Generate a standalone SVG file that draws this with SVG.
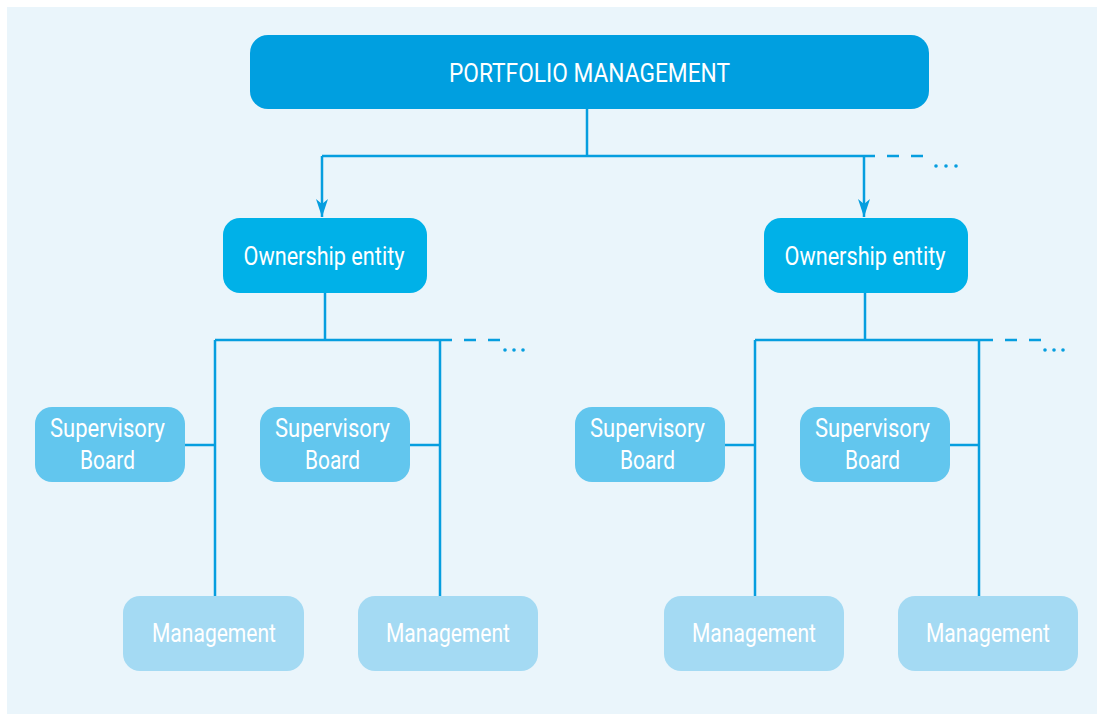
<svg xmlns="http://www.w3.org/2000/svg" width="1097" height="714" viewBox="0 0 1097 714">
<style>
.t{font-family:Roboto,"Liberation Sans",sans-serif;font-size:25px;fill:#ffffff;text-anchor:middle}
.ln{stroke:#069EDF;stroke-width:2.5;fill:none}
.dash{stroke:#069EDF;stroke-width:2.5;fill:none;stroke-dasharray:12 12}
.dot{fill:#069EDF}
.top{fill:#009FE0}
.own{fill:#00B1E8}
.sup{fill:#62C6EE}
.mgt{fill:#A4DAF3}
</style>
<defs>
<marker id="arr" viewBox="0 0 18 12" refX="18" refY="6" markerWidth="18" markerHeight="12" markerUnits="userSpaceOnUse" orient="auto">
<path d="M0,0 L18,6 L0,12 L5,6 Z" fill="#069EDF"/>
</marker>
</defs>
<rect x="7" y="7" width="1090" height="707" fill="#EAF5FB"/>
<g id="connectors">
<path class="ln" d="M587,109 V156 M322,156 H875"/>
<path class="ln" d="M322,156 V217" marker-end="url(#arr)"/>
<path class="ln" d="M864,156 V217" marker-end="url(#arr)"/>
<path class="dash" d="M887,156 H923"/>
<circle class="dot" cx="936" cy="166" r="1.8"/><circle class="dot" cx="946" cy="166" r="1.8"/><circle class="dot" cx="956" cy="166" r="1.8"/>
<path class="ln" d="M325,293 V340 M215,340 H452 M215,340 V596 M440,340 V596 M185,445 H215 M410,445 H440"/>
<path class="dash" d="M464,340 H500"/>
<circle class="dot" cx="505" cy="350" r="1.8"/><circle class="dot" cx="514" cy="350" r="1.8"/><circle class="dot" cx="523" cy="350" r="1.8"/>
<path class="ln" d="M865,293 V340 M755,340 H993 M755,340 V596 M979,340 V596 M725,445 H755 M950,445 H979"/>
<path class="dash" d="M1005,340 H1041"/>
<circle class="dot" cx="1045" cy="350" r="1.8"/><circle class="dot" cx="1054" cy="350" r="1.8"/><circle class="dot" cx="1063" cy="350" r="1.8"/>
</g>
<g id="portfolio"><rect class="top" x="250" y="35" width="679" height="74" rx="18"/><text class="t" x="589.5" y="82" textLength="281" lengthAdjust="spacingAndGlyphs">PORTFOLIO MANAGEMENT</text></g>
<g id="own1"><rect class="own" x="223" y="218" width="204" height="75" rx="17"/><text class="t" x="324" y="265" textLength="161" lengthAdjust="spacingAndGlyphs">Ownership entity</text></g>
<g id="own2"><rect class="own" x="764" y="218" width="204" height="75" rx="17"/><text class="t" x="865" y="265" textLength="161" lengthAdjust="spacingAndGlyphs">Ownership entity</text></g>
<g id="sup1"><rect class="sup" x="35" y="407" width="150" height="75" rx="17"/><text class="t" x="107.5" y="437" textLength="115" lengthAdjust="spacingAndGlyphs">Supervisory</text><text class="t" x="107.5" y="469" textLength="55" lengthAdjust="spacingAndGlyphs">Board</text></g>
<g id="sup2"><rect class="sup" x="260" y="407" width="150" height="75" rx="17"/><text class="t" x="332.5" y="437" textLength="115" lengthAdjust="spacingAndGlyphs">Supervisory</text><text class="t" x="332.5" y="469" textLength="55" lengthAdjust="spacingAndGlyphs">Board</text></g>
<g id="sup3"><rect class="sup" x="575" y="407" width="150" height="75" rx="17"/><text class="t" x="647.5" y="437" textLength="115" lengthAdjust="spacingAndGlyphs">Supervisory</text><text class="t" x="647.5" y="469" textLength="55" lengthAdjust="spacingAndGlyphs">Board</text></g>
<g id="sup4"><rect class="sup" x="800" y="407" width="150" height="75" rx="17"/><text class="t" x="872.5" y="437" textLength="115" lengthAdjust="spacingAndGlyphs">Supervisory</text><text class="t" x="872.5" y="469" textLength="55" lengthAdjust="spacingAndGlyphs">Board</text></g>
<g id="mgt1"><rect class="mgt" x="123" y="596" width="181" height="75" rx="17"/><text class="t" x="214" y="642" textLength="124" lengthAdjust="spacingAndGlyphs">Management</text></g>
<g id="mgt2"><rect class="mgt" x="358" y="596" width="180" height="75" rx="17"/><text class="t" x="448" y="642" textLength="124" lengthAdjust="spacingAndGlyphs">Management</text></g>
<g id="mgt3"><rect class="mgt" x="664" y="596" width="180" height="75" rx="17"/><text class="t" x="754" y="642" textLength="124" lengthAdjust="spacingAndGlyphs">Management</text></g>
<g id="mgt4"><rect class="mgt" x="898" y="596" width="180" height="75" rx="17"/><text class="t" x="988" y="642" textLength="124" lengthAdjust="spacingAndGlyphs">Management</text></g>
</svg>
